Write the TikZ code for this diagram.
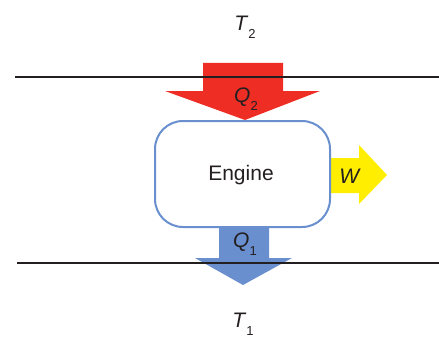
\documentclass[tikz,border=0pt]{standalone}
\usepackage{fontspec}
\setmainfont{Liberation Sans}
\definecolor{hotred}{RGB}{238,46,36}
\definecolor{coldblue}{RGB}{105,143,207}
\definecolor{workyellow}{RGB}{255,238,0}
\definecolor{txt}{RGB}{35,31,32}
\newcommand{\mysub}[1]{\raisebox{-0.7ex}{\fontsize{13}{15}\selectfont #1}}
\begin{document}
\begin{tikzpicture}[x=1pt,y=-1pt,
  lbl/.style={text=txt,font=\fontsize{21}{24}\selectfont,inner sep=0pt},
  resline/.style={line width=2pt,draw=txt}]
\useasboundingbox (0,0) rectangle (439,337);
% red arrow Q2
\fill[hotred] (203,63) -- (283,63) -- (283,91) -- (320,91) -- (245,120) -- (165,91) -- (203,91) -- cycle;
% blue arrow Q1
\fill[coldblue] (219,226) -- (269,226) -- (269,258) -- (292,258) -- (243,285) -- (195,258) -- (219,258) -- cycle;
% yellow arrow W
\fill[workyellow] (330,158) -- (359,158) -- (359,145) -- (387,175) -- (359,204) -- (359,193) -- (330,193) -- cycle;
% engine
\node[draw=coldblue,line width=2pt,rounded corners=28pt,minimum width=175pt,minimum height=106pt,inner sep=0pt] (engine) at (242.5,174) {};
\node[lbl] (enginetext) at (241,175) {Engine};
% reservoir lines
\coordinate (tl) at (15,77); \coordinate (tr) at (439,77);
\coordinate (bl) at (17,263); \coordinate (br) at (439,263);
\draw[resline] (tl) -- (tr);
\draw[resline] (bl) -- (br);
% labels
\node[lbl] (T2) at (245,27) {\textit{T}\mysub{2}};
\node[lbl] (T1) at (243,324) {\textit{T}\mysub{1}};
\node[lbl] (Q2) at (246,99) {\textit{Q}\mysub{2}};
\node[lbl] (Q1) at (245,244) {\textit{Q}\mysub{1}};
\node[lbl] (W) at (350,176) {\textit{W}};
\end{tikzpicture}
\end{document}
